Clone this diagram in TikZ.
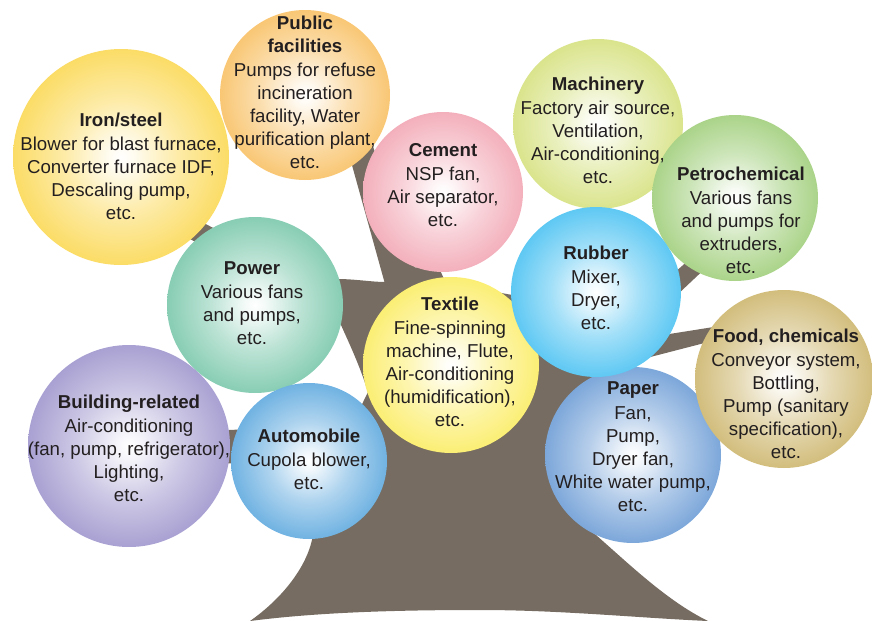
\documentclass[tikz,border=0pt]{standalone}
\usepackage{fontspec}
\setmainfont{Liberation Sans}
\definecolor{treec}{RGB}{118,108,97}
\definecolor{textc}{RGB}{35,31,32}
\definecolor{ironc}{RGB}{250,211,62}
\definecolor{pubc}{RGB}{247,184,80}
\definecolor{cemc}{RGB}{240,155,170}
\definecolor{machc}{RGB}{208,221,110}
\definecolor{petc}{RGB}{148,200,106}
\definecolor{rubc}{RGB}{52,186,240}
\definecolor{powc}{RGB}{104,192,160}
\definecolor{texc}{RGB}{250,234,80}
\definecolor{bldc}{RGB}{146,136,198}
\definecolor{autoc}{RGB}{74,158,218}
\definecolor{papc}{RGB}{90,144,208}
\definecolor{foodc}{RGB}{198,172,90}
\colorlet{bubcol}{gray}
\pgfdeclareradialshading[bubcol]{bubble}{\pgfpoint{0bp}{0bp}}{color(0bp)=(white); color(3bp)=(bubcol!8!white); color(13bp)=(bubcol!45!white); color(26bp)=(bubcol!82!white); color(38bp)=(bubcol); color(50bp)=(bubcol)}
\tikzset{
  bub/.style={circle, draw=none, inner sep=0pt, minimum size=#1*1.5pt, shading=bubble},
  bcol/.code={\colorlet{bubcol}{#1}},
  txt/.style={align=center, font=\fontsize{14}{17.25}\selectfont, text=textc, inner sep=0pt},
  tree/.style={fill=treec, draw=none}
}
\begin{document}
\begin{tikzpicture}[x=0.75pt, y=-0.75pt]
\useasboundingbox (0,0) rectangle (872,621);
% trunk
\fill[tree] (250,621) .. controls (280,600) and (305,570) .. (312,540)
  -- (330,470) -- (368,392)
  .. controls (358,360) and (345,335) .. (338,318)
  -- (320,290) -- (337,279)
  .. controls (355,279) and (372,282) .. (385,282)
  -- (405,268) -- (438,266) -- (446,283) -- (540,300) -- (600,345)
  -- (640,380) -- (610,480) -- (588,528)
  .. controls (625,560) and (665,600) .. (708,621)
  .. controls (640,618) and (560,610) .. (480,610)
  .. controls (400,610) and (320,612) .. (250,621) -- cycle;
% branches
\fill[tree] (385,284) -- (345,140) -- (368,132) -- (415,268) -- cycle;
\fill[tree] (330,290) -- (170,205) -- (165,225) -- (335,320) -- cycle;
\fill[tree] (340,425) -- (140,434) -- (140,458) -- (340,470) -- cycle;
\fill[tree] (612,328) -- (735,219) -- (745,231) -- (626,343) -- cycle;
\fill[tree] (600,345) -- (720,326) -- (720,339) -- (600,370) -- cycle;
% bubbles
\node[bub=108, bcol=ironc] (iron) at (121,157) {};
\node[bub=85, bcol=pubc] (public) at (305,95) {};
\node[bub=80, bcol=cemc] (cement) at (443,192) {};
\node[bub=85, bcol=machc] (mach) at (598,124) {};
\node[bub=83, bcol=petc] (petro) at (735,198) {};
\node[bub=88, bcol=powc] (power) at (255,305) {};
\node[bub=88, bcol=texc] (textile) at (451,365) {};
\node[bub=88, bcol=papc] (paper) at (633,455) {};
\node[bub=85, bcol=rubc] (rubber) at (596,292) {};
\node[bub=89, bcol=foodc] (food) at (784,379) {};
\node[bub=101, bcol=bldc] (building) at (129,446) {};
\node[bub=78, bcol=autoc] (auto) at (309,461) {};
% texts
\node[txt] (iron-t) at (121,166) {\textbf{Iron/steel}\\[1pt]Blower for blast furnace,\\Converter furnace IDF,\\Descaling pump,\\etc.};
\node[txt] (public-t) at (305,92) {\textbf{Public}\\\textbf{facilities}\\[1pt]Pumps for refuse\\incineration\\facility, Water\\purification plant,\\etc.};
\node[txt] (cement-t) at (443,185) {\textbf{Cement}\\[1pt]NSP fan,\\Air separator,\\etc.};
\node[txt] (mach-t) at (598,130.5) {\textbf{Machinery}\\[1pt]Factory air source,\\Ventilation,\\Air-conditioning,\\etc.};
\node[txt] (petro-t) at (741,220) {\textbf{Petrochemical}\\[1pt]Various fans\\and pumps for\\extruders,\\etc.};
\node[txt] (rubber-t) at (596,287.5) {\textbf{Rubber}\\[1pt]Mixer,\\Dryer,\\etc.};
\node[txt] (power-t) at (252,303) {\textbf{Power}\\[1pt]Various fans\\and pumps,\\etc.};
\node[txt] (textile-t) at (450,361.5) {\textbf{Textile}\\[1pt]Fine-spinning\\machine, Flute,\\Air-conditioning\\(humidification),\\etc.};
\node[txt] (building-t) at (129,448) {\textbf{Building-related}\\[1pt]Air-conditioning\\(fan, pump, refrigerator),\\Lighting,\\etc.};
\node[txt] (auto-t) at (309,459) {\textbf{Automobile}\\[1pt]Cupola blower,\\etc.};
\node[txt] (paper-t) at (633,446.5) {\textbf{Paper}\\[1pt]Fan,\\Pump,\\Dryer fan,\\White water pump,\\etc.};
\node[txt] (food-t) at (786,393.5) {\textbf{Food, chemicals}\\[1pt]Conveyor system,\\Bottling,\\Pump (sanitary\\specification),\\etc.};
\end{tikzpicture}
\end{document}
